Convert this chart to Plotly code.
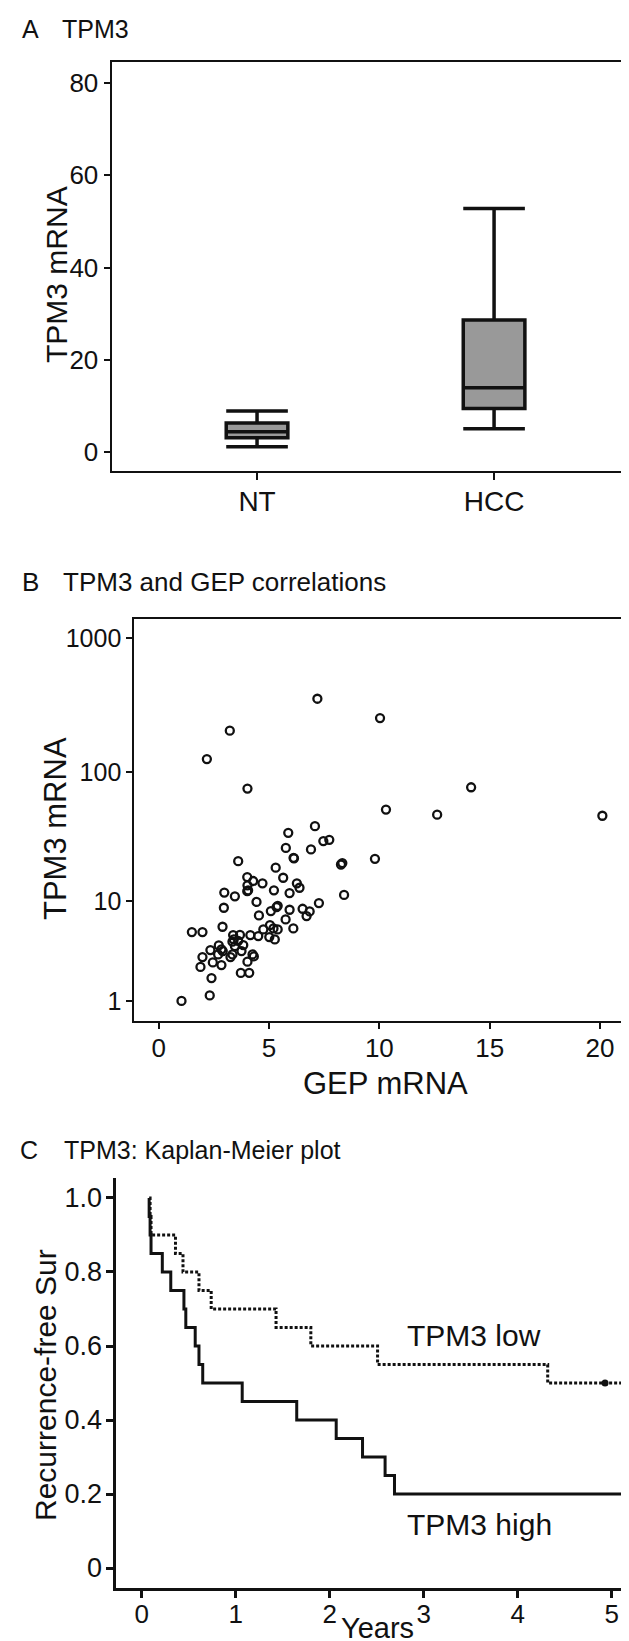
import plotly.graph_objects as go

W, H = 629, 1641
FONT = "Liberation Sans, Arial, Helvetica, sans-serif"
INK = "#111111"

# ---------------- Panel A: box plot ----------------
box_categories = ["NT", "HCC"]
box_lowerfence = [1.1, 5.0]
box_q1 = [3.1, 9.4]
box_median = [4.4, 13.9]
box_q3 = [6.3, 28.6]
box_upperfence = [8.9, 52.8]
a_yticks = [0, 20, 40, 60, 80]

# ---------------- Panel B: scatter ----------------
gep_mrna = [7.19, 10.03, 3.22, 2.18, 4.02, 10.30, 7.08, 5.87, 7.46, 7.73,
            5.76, 6.90, 6.11, 6.13, 3.60, 8.26, 8.32, 9.80, 5.30, 5.64,
            4.01, 4.28, 4.70, 4.02, 6.26, 6.38, 5.22, 4.01, 4.05, 2.97,
            3.45, 5.93, 8.40, 4.43, 7.26, 5.39, 5.34, 2.95, 5.93, 6.52,
            5.08, 6.84, 4.54, 6.70, 5.75, 2.89, 5.04, 4.74, 5.20, 5.39,
            6.10, 1.50, 1.98, 3.37, 3.68, 4.15, 4.51, 5.01, 5.26, 3.40,
            3.34, 3.60, 3.83, 3.45, 2.72, 2.34, 2.84, 2.69, 2.90, 3.75,
            3.34, 3.25, 1.98, 4.25, 4.31, 2.45, 4.02, 1.89, 2.84, 3.72,
            4.10, 2.39, 2.31, 1.03, 12.62, 14.16, 20.11]
tpm3_mrna = [353, 253, 204, 125, 75, 52, 38.9, 34.6, 29.9, 30.6,
             26.5, 25.8, 22.2, 22.0, 20.9, 19.7, 20.2, 21.8, 18.6, 15.5,
             15.7, 14.6, 14.0, 13.5, 14.0, 12.9, 12.3, 12.1, 12.3, 11.8,
             11.0, 11.7, 11.3, 9.9, 9.7, 9.2, 8.98, 8.87, 8.54, 8.70,
             8.32, 8.27, 7.66, 7.56, 7.08, 6.13, 6.34, 5.81, 5.93, 5.81,
             5.93, 5.51, 5.51, 5.18, 5.20, 5.18, 5.08, 4.97, 4.74, 4.74,
             4.52, 4.60, 4.21, 4.12, 4.18, 3.78, 3.84, 3.44, 3.70, 3.70,
             3.44, 3.24, 3.24, 3.44, 3.29, 2.87, 2.92, 2.58, 2.70, 2.23,
             2.24, 1.96, 1.20, 1.00, 47.6, 76.7, 46.7]
b_yticks = [1, 10, 100, 1000]
b_xticks = [0, 5, 10, 15, 20]

# ---------------- Panel C: Kaplan-Meier ----------------
high_years = [0.08, 0.08, 0.09, 0.10, 0.22, 0.31, 0.45, 0.47, 0.57, 0.61,
              0.65, 1.07, 1.65, 2.07, 2.35, 2.59, 2.69, 5.6]
high_surv = [1.00, 0.95, 0.90, 0.85, 0.80, 0.75, 0.70, 0.65, 0.60, 0.55,
             0.50, 0.45, 0.40, 0.35, 0.30, 0.25, 0.20, 0.20]
low_years = [0.08, 0.09, 0.10, 0.36, 0.44, 0.61, 0.74, 1.43, 1.80, 2.51,
             4.32, 5.6]
low_surv = [1.00, 0.95, 0.90, 0.85, 0.80, 0.75, 0.70, 0.65, 0.60, 0.55,
            0.50, 0.50]
censor_years = [4.93]
censor_surv = [0.50]
c_xticks = [0, 1, 2, 3, 4, 5]
c_yticks = [0, 0.2, 0.4, 0.6, 0.8, 1.0]
c_yticktext = ["0", "0.2", "0.4", "0.6", "0.8", "1.0"]


def px(x):
    return x / W


def py(y):
    return 1 - y / H


fig = go.Figure()

fig.add_trace(go.Box(
    x=box_categories, q1=box_q1, median=box_median, q3=box_q3,
    lowerfence=box_lowerfence, upperfence=box_upperfence,
    fillcolor="#999999", line=dict(color=INK, width=3.5),
    width=0.26, whiskerwidth=1, boxpoints=False, showlegend=False,
    xaxis="x", yaxis="y"))

fig.add_trace(go.Scatter(
    x=gep_mrna, y=[v + 1 for v in tpm3_mrna], mode="markers",
    marker=dict(symbol="circle-open", size=8, color=INK, line=dict(width=2.3)),
    showlegend=False, xaxis="x2", yaxis="y2"))

fig.add_trace(go.Scatter(
    x=low_years, y=low_surv, mode="lines", line_shape="hv",
    line=dict(color=INK, width=3, dash="3px,2px"),
    showlegend=False, xaxis="x3", yaxis="y3"))
fig.add_trace(go.Scatter(
    x=censor_years, y=censor_surv, mode="markers",
    marker=dict(symbol="circle", size=7, color=INK),
    showlegend=False, xaxis="x3", yaxis="y3"))
fig.add_trace(go.Scatter(
    x=high_years, y=high_surv, mode="lines", line_shape="hv",
    line=dict(color=INK, width=3),
    showlegend=False, xaxis="x3", yaxis="y3"))

common = dict(showgrid=False, zeroline=False, automargin=False,
              ticks="outside", tickcolor=INK, showline=True, linecolor=INK)

fig.update_layout(
    width=W, height=H, template="none",
    margin=dict(l=0, r=0, t=0, b=0),
    paper_bgcolor="white", plot_bgcolor="white",
    font=dict(family=FONT, color=INK),
    xaxis=dict(**common, domain=[px(103.5), 1], anchor="y", type="category",
               range=[-0.614, 1.603], linewidth=2, mirror=True,
               ticklen=7, tickwidth=1.5, tickfont=dict(size=28),
               ticklabelstandoff=-3),
    yaxis=dict(**common, domain=[py(463), py(54)], anchor="x",
               range=[-4.14, 84.6], tickvals=a_yticks, linewidth=2,
               ticklen=6, tickwidth=1.5, tickfont=dict(size=26)),
    xaxis2=dict(**common, domain=[px(126.3), 1], anchor="y2",
                range=[-1.11, 21.68], tickvals=b_xticks, linewidth=2,
                mirror=True, ticklen=6, tickwidth=1.5, tickfont=dict(size=26),
                ticklabelstandoff=-3),
    yaxis2=dict(**common, domain=[py(1013), py(611)], anchor="x2", type="log",
                range=[0.152, 3.142], tickvals=[v + 1 for v in b_yticks],
                ticktext=[str(v) for v in b_yticks], linewidth=2,
                ticklen=6, tickwidth=1.5, tickfont=dict(size=25)),
    xaxis3=dict(**common, domain=[px(107.5), 1], anchor="y3",
                range=[-0.278, 5.27], tickvals=c_xticks, linewidth=3,
                ticklen=7, tickwidth=2.5, tickfont=dict(size=26),
                ticklabelstandoff=-6),
    yaxis3=dict(**common, domain=[py(1580), py(1170)], anchor="x3",
                range=[-0.054, 1.054], tickvals=c_yticks,
                ticktext=c_yticktext, linewidth=3,
                ticklen=7, tickwidth=2.5, tickfont=dict(size=27),
                ticklabelstandoff=-2),
)

ann = []


def add_text(text, x, y, size, xanchor="left", angle=0):
    ann.append(dict(text=text, x=px(x), y=py(y), xref="paper", yref="paper",
                    xanchor=xanchor, yanchor="middle", showarrow=False,
                    textangle=angle, font=dict(size=size, family=FONT, color=INK)))


# panel titles
add_text("A", 12, 21.5, 25)
add_text("TPM3", 52, 21.5, 25)
add_text("B", 12, 573.5, 26)
add_text("TPM3 and GEP correlations", 53, 573.5, 26)
add_text("C", 10, 1141.5, 25)
add_text("TPM3: Kaplan-Meier plot", 54, 1141.5, 25)

# axis titles
add_text("TPM3 mRNA", 48, 267, 30, xanchor="center", angle=-90)
add_text("TPM3 mRNA", 48, 821, 31, xanchor="center", angle=-90)
add_text("GEP mRNA", 377, 1075, 31, xanchor="center")
add_text("Recurrence-free Sur", 37, 1377, 30, xanchor="center", angle=-90)
add_text("Years", 369, 1620, 29, xanchor="center")

# curve labels
add_text("TPM3 low", 397, 1327.5, 30)
add_text("TPM3 high", 397, 1516, 30)

fig.update_layout(annotations=ann)

fig.write_html("out.html")
